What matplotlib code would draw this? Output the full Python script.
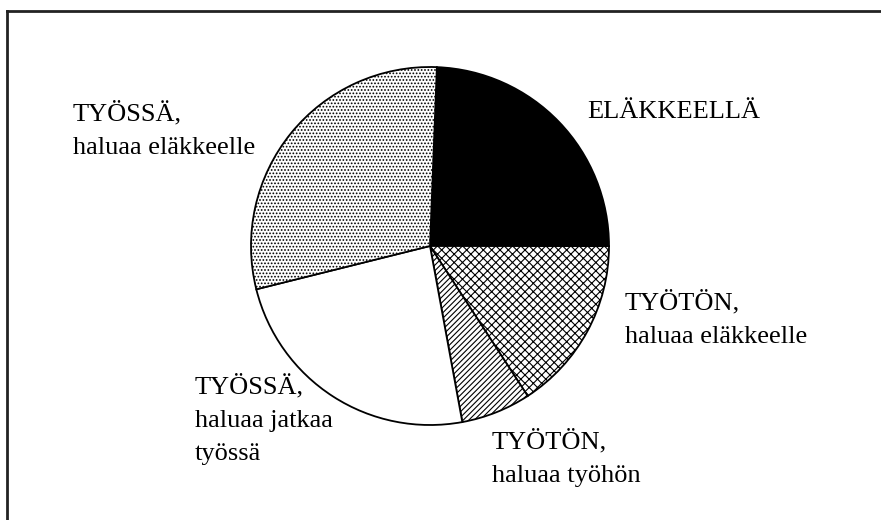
import matplotlib.pyplot as plt
from matplotlib.lines import Line2D

plt.rcParams["hatch.linewidth"] = 0.8

# osuudet myötäpäivään, musta sektori ensin
labels = [
    "ELÄKKEELLÄ",
    "TYÖTÖN,\nhaluaa eläkkeelle",
    "TYÖTÖN,\nhaluaa työhön",
    "TYÖSSÄ,\nhaluaa jatkaa\ntyössä",
    "TYÖSSÄ,\nhaluaa eläkkeelle",
]
values = [24.4, 15.8, 6.3, 24.0, 29.5]
fills = ["black", "white", "white", "white", "white"]
hatches = [None, "xxxx", "//////", None, "....."]

# tekstien paikat pikseleinä (vasen reuna, viimeisen rivin perusviiva)
label_x = [587, 625, 492, 195, 73]
label_y = [118, 343, 482, 460, 154]

W, H = 881, 520
fig = plt.figure(figsize=(W / 100, H / 100), dpi=100)
ax = fig.add_axes([0, 0, 1, 1])

wedges, _ = ax.pie(
    values,
    colors=fills,
    startangle=87.8,
    counterclock=False,
    center=(430, H - 246),
    radius=179,
    frame=False,
    wedgeprops=dict(edgecolor="black", linewidth=1.3),
)
for w, h in zip(wedges, hatches):
    if h:
        w.set_hatch(h)

for txt, x, y in zip(labels, label_x, label_y):
    ax.text(
        x,
        H - y,
        txt,
        fontsize=19,
        family="Liberation Serif",
        color="black",
        ha="left",
        va="baseline",
        linespacing=1.67,
    )

# kehys: vain ylä- ja vasen reuna näkyvät
ax.add_line(Line2D([7, W], [H - 11, H - 11], color="#222222", lw=2))
ax.add_line(Line2D([7, 7], [H - 11, 0], color="#222222", lw=2))

ax.set_xlim(0, W)
ax.set_ylim(0, H)
ax.set_aspect("auto")
ax.axis("off")

fig.savefig("out.png", dpi=100, facecolor="white")
